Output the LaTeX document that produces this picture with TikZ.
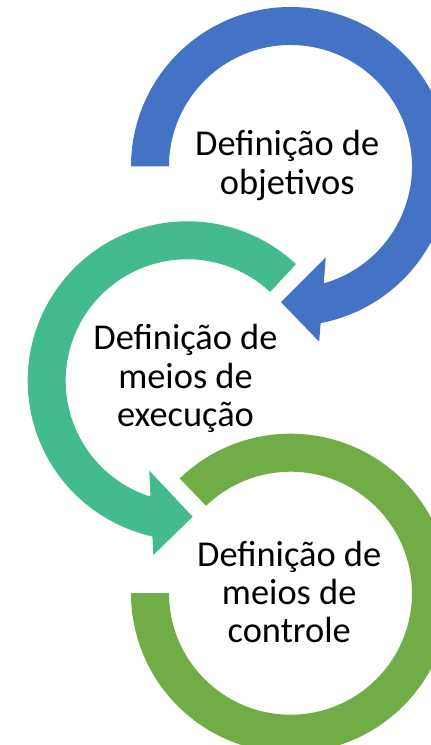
\documentclass[tikz,border=0pt]{standalone}
\usepackage{fontspec}
\setmainfont{Carlito}[Ligatures={Common,Discretionary}]
\definecolor{cblue}{HTML}{4472C4}
\definecolor{cteal}{HTML}{44BB8F}
\definecolor{cgreen}{HTML}{70AD47}
\tikzset{
  lbl/.style={align=center, inner sep=0pt, text=black, font=\fontsize{36.4}{38.2}\selectfont}
}
\begin{document}
\begin{tikzpicture}[x=1pt,y=1pt]
\useasboundingbox (0,0) rectangle (431,745);
\clip (0,0) rectangle (431,745);
\fill[white] (0,0) rectangle (431,745);
% blue circular arrow
\begin{scope}[shift={(290.5,578.5)}]
\fill[cblue] (180:159.5) arc[start angle=180,end angle=-79.1,radius=159.5]
  -- (-80.7:177.5) -- (-94:136) -- (-68.8:97.5) -- (-74.1:121.5)
  arc[start angle=-74.1,end angle=180,radius=121.5] -- cycle;
\end{scope}
% teal circular arrow
\begin{scope}[shift={(187.2,364.2)}]
\fill[cteal] (47:159.5) arc[start angle=47,end angle=257.4,radius=159.5]
  -- (259.0:177.5) -- (272.3:136) -- (247.1:97.5) -- (252.4:121.5)
  arc[start angle=252.4,end angle=47,radius=121.5] -- cycle;
\end{scope}
% green ring
\begin{scope}[shift={(290.5,151.8)}]
\fill[cgreen] (134:159.5) arc[start angle=134,end angle=-180,radius=159.5]
  -- (-180:121.5) arc[start angle=-180,end angle=134,radius=121.5] -- cycle;
\end{scope}
\node[lbl] (t1) at (287.2,579.5) {Definição de\\objetivos};
\node[lbl] (t2) at (185.5,366.5) {Definição de\\meios de\\execução};
\node[lbl] (t3) at (289.2,152.8) {Definição de\\meios de\\controle};
\end{tikzpicture}
\end{document}
